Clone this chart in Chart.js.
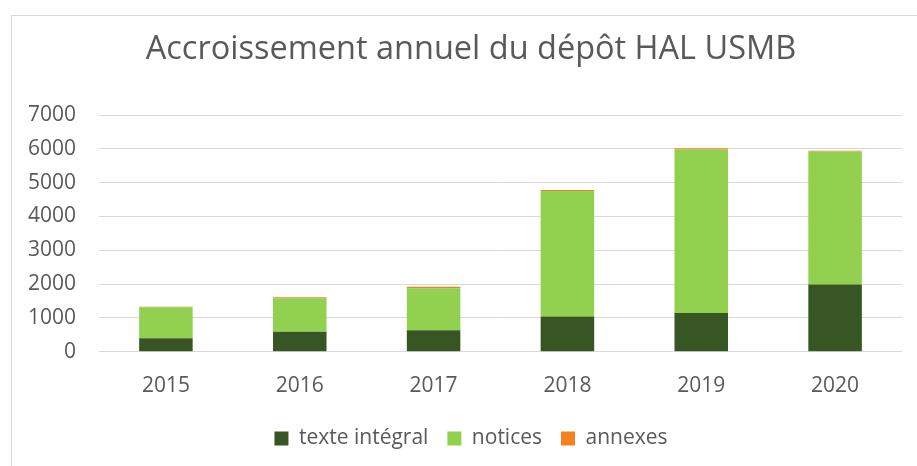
<!DOCTYPE html>
<html>
<head>
<meta charset="utf-8">
<script src="https://cdn.jsdelivr.net/npm/chart.js@4"></script>
<style>
  html, body { margin: 0; padding: 0; background: #fff; overflow: hidden; }
  #frame {
    position: absolute; left: 11px; top: 15px;
    width: 918px; height: 470px;
    border: 1px solid #d9d9d9; background: #fff;
  }
</style>
</head>
<body>
<div id="frame"><canvas id="chart" width="918" height="470"></canvas></div>
<script>
// data
var years = ['2015', '2016', '2017', '2018', '2019', '2020'];
var texteIntegral = [400, 590, 640, 1040, 1150, 1990];
var notices = [920, 990, 1240, 3710, 4830, 3930];
var annexes = [15, 30, 40, 30, 40, 20];

var textColor = '#595959';
var gridColor = '#d9d9d9';
var fontFamily = "'Open Sans', 'Liberation Sans', sans-serif";

var canvas = document.getElementById('chart');

// centre title and legend on the whole frame, not on the padded area
var centerBlocks = {
    id: 'centerBlocks',
    afterLayout: function (chart) {
        [chart.titleBlock, chart.legend].forEach(function (b) {
            if (!b) return;
            b.left = 0;
            b.right = chart.width;
            b.width = chart.width;
        });
    }
};

var chart = new Chart(canvas, {
    type: 'bar',
    data: {
        labels: years,
        datasets: [
            { label: 'texte intégral', data: texteIntegral, backgroundColor: '#375623' },
            { label: 'notices', data: notices, backgroundColor: '#92D050' },
            { label: 'annexes', data: annexes, backgroundColor: '#F38120' }
        ]
    },
    plugins: [centerBlocks],
    options: {
        responsive: false,
        animation: false,
        layout: { padding: { left: 0, right: 28, top: 0, bottom: 27 } },
        datasets: {
            bar: { barPercentage: 0.4, categoryPercentage: 1.0, borderWidth: 0 }
        },
        plugins: {
            title: {
                display: true,
                text: 'Accroissement annuel du dépôt HAL USMB',
                color: textColor,
                font: { family: fontFamily, size: 32.5, weight: 'normal' },
                padding: { top: 14, bottom: 46 }
            },
            legend: {
                position: 'bottom',
                labels: {
                    color: textColor,
                    font: { family: fontFamily, size: 21 },
                    boxWidth: 14,
                    boxHeight: 14,
                    padding: 19
                }
            },
            tooltip: { enabled: false }
        },
        scales: {
            x: {
                stacked: true,
                grid: { display: false },
                border: { display: false },
                ticks: {
                    color: textColor,
                    font: { family: fontFamily, size: 21 },
                    padding: 14
                },
                afterFit: function (scale) { scale.height -= 4; }
            },
            y: {
                stacked: true,
                min: 0,
                max: 7000,
                border: { display: false },
                grid: { color: gridColor, lineWidth: 1, drawTicks: false },
                ticks: {
                    stepSize: 1000,
                    color: textColor,
                    font: { family: fontFamily, size: 21 },
                    padding: 23,
                    callback: function (value) { return String(value); }
                },
                afterFit: function (scale) { scale.width = 87; }
            }
        }
    }
});
</script>
</body>
</html>
